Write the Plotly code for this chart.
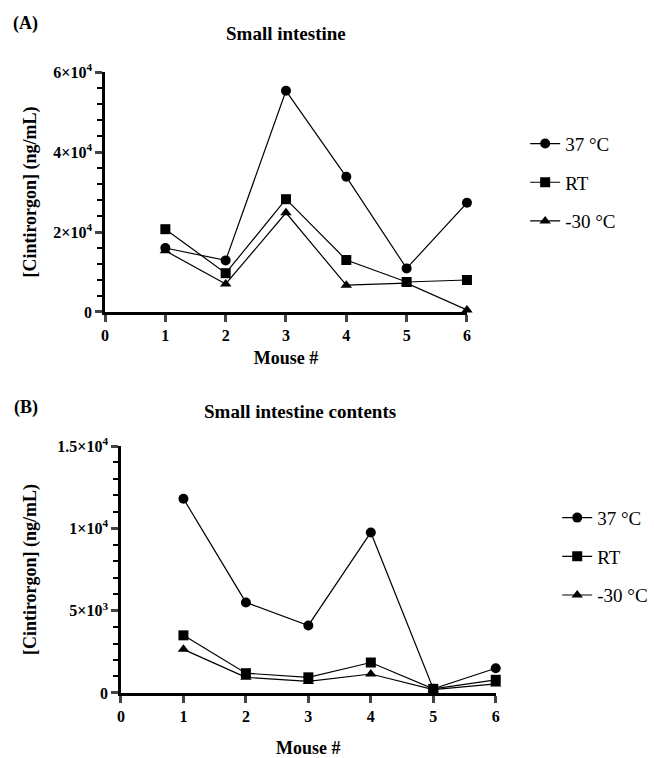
import plotly.graph_objects as go

mice = [1, 2, 3, 4, 5, 6]
series_names = ["37 °C", "RT", "-30 °C"]
symbols = ["circle", "square", "triangle-up"]

# Panel A: Small intestine
a_37 = [16000, 12900, 55300, 33800, 10900, 27300]
a_rt = [20700, 9700, 28200, 13000, 7500, 8000]
a_m30 = [15300, 7000, 24800, 6700, 7200, 500]

# Panel B: Small intestine contents
b_37 = [11800, 5500, 4100, 9750, 250, 1500]
b_rt = [3500, 1200, 950, 1850, 250, 800]
b_m30 = [2650, 950, 700, 1150, 200, 550]

a_ticks = [0, 20000, 40000, 60000]
a_ticktext = ["0", "2×10<sup>4</sup>", "4×10<sup>4</sup>", "6×10<sup>4</sup>"]
b_ticks = [0, 5000, 10000, 15000]
b_ticktext = ["0", "5×10<sup>3</sup>", "1×10<sup>4</sup>", "1.5×10<sup>4</sup>"]
x_ticks = [0, 1, 2, 3, 4, 5, 6]
x_ticktext = ["0", "1", "2", "3", "4", "5", "6"]

FONT = "Liberation Serif, Times New Roman, DejaVu Serif, serif"
fig = go.Figure()

for vals, name, sym in zip([a_37, a_rt, a_m30], series_names, symbols):
    fig.add_trace(go.Scatter(
        x=mice, y=vals, name=name, mode="lines+markers",
        line=dict(color="black", width=1.2),
        marker=dict(symbol=sym, size=10, color="black"),
        xaxis="x", yaxis="y", legend="legend", legendgroup="a" + name,
        cliponaxis=False))

for vals, name, sym in zip([b_37, b_rt, b_m30], series_names, symbols):
    fig.add_trace(go.Scatter(
        x=mice, y=vals, name=name, mode="lines+markers",
        line=dict(color="black", width=1.2),
        marker=dict(symbol=sym, size=10, color="black"),
        xaxis="x2", yaxis="y2", legend="legend2", legendgroup="b" + name,
        cliponaxis=False))

tickfont = dict(family=FONT, size=16, color="black")
titlefont = dict(family=FONT, size=18, color="black")

def xaxis(domain, anchor, standoff):
    return dict(domain=domain, anchor=anchor, range=[0, 6], tickvals=x_ticks,
                ticktext=["<b>" + t + "</b>" for t in x_ticktext],
                ticks="outside", ticklen=7, tickwidth=2.5, showline=True,
                linewidth=2.5, linecolor="black", showgrid=False, zeroline=False,
                automargin=False,
                tickfont=dict(family=FONT, size=16, color="black"),
                title=dict(text="<b>Mouse #</b>", font=titlefont, standoff=standoff))

def yaxis(domain, anchor, rng, tv, tt, minor, standoff):
    return dict(domain=domain, anchor=anchor, range=rng, tickvals=tv,
                ticktext=["<b>" + t + "</b>" for t in tt],
                ticks="outside", ticklen=7, tickwidth=2.5, showline=True,
                linewidth=2.5, linecolor="black", showgrid=False, zeroline=False,
                automargin=False,
                minor=dict(dtick=minor, tick0=0, ticks="outside", ticklen=5,
                           tickwidth=2, tickcolor="black", showgrid=False),
                tickfont=tickfont,
                title=dict(text="<b>[Cintirorgon] (ng/mL)</b>", font=titlefont, standoff=standoff))

legend_common = dict(font=dict(family=FONT, size=19, color="black"),
                     bgcolor="rgba(0,0,0,0)", tracegroupgap=11,
                     xanchor="left", yanchor="top", itemclick=False)

fig.update_layout(
    width=654, height=758, margin=dict(l=0, r=0, t=0, b=0),
    plot_bgcolor="white", paper_bgcolor="white",
    font=dict(family=FONT, color="black"),
    xaxis=xaxis([0.1606, 0.714], "y", 9),
    yaxis=yaxis([0.5884, 0.905], "x", [0, 60000], a_ticks, a_ticktext, 4000, 13),
    xaxis2=xaxis([0.185, 0.758], "y2", 18),
    yaxis2=yaxis([0.0858, 0.4116], "x2", [0, 15000], b_ticks, b_ticktext, 1000, 17),
    legend=dict(x=0.803, y=0.8355, **legend_common),
    legend2=dict(x=0.852, y=0.342, **legend_common),
    annotations=[
        dict(text="<b>(A)</b>", x=11 / 654, y=1 - 23 / 758, xref="paper", yref="paper",
             showarrow=False, xanchor="left", yanchor="middle",
             font=dict(family=FONT, size=18, color="black")),
        dict(text="<b>Small intestine</b>", x=286 / 654, y=1 - 34 / 758, xref="paper", yref="paper",
             showarrow=False, xanchor="center", yanchor="middle",
             font=dict(family=FONT, size=19, color="black")),
        dict(text="<b>(B)</b>", x=12 / 654, y=1 - 407 / 758, xref="paper", yref="paper",
             showarrow=False, xanchor="left", yanchor="middle",
             font=dict(family=FONT, size=18, color="black")),
        dict(text="<b>Small intestine contents</b>", x=300 / 654, y=1 - 411 / 758, xref="paper", yref="paper",
             showarrow=False, xanchor="center", yanchor="middle",
             font=dict(family=FONT, size=19, color="black")),
    ],
)

fig.write_html("out.html")
